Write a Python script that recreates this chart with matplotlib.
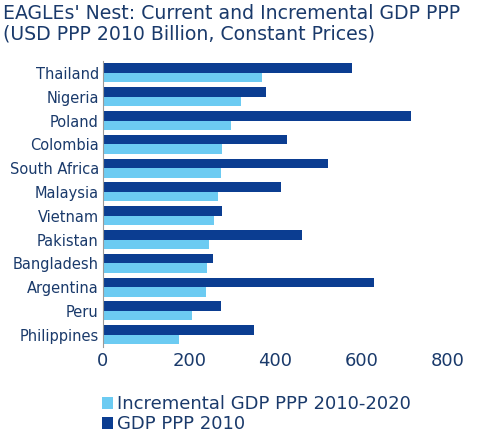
import numpy as np
import matplotlib.pyplot as plt

countries = ["Thailand", "Nigeria", "Poland", "Colombia", "South Africa", "Malaysia",
             "Vietnam", "Pakistan", "Bangladesh", "Argentina", "Peru", "Philippines"]
incremental = [369, 320, 297, 276, 274, 267, 258, 246, 241, 239, 206, 176]
gdp_2010 = [578, 378, 715, 427, 522, 413, 276, 462, 255, 629, 274, 350]

light = "#6ccbf2"
dark = "#0b3d91"
txt = "#1a3a6b"

fig = plt.figure(figsize=(5, 4.36), dpi=100)
ax = fig.add_axes([0.206, 0.205, 0.69, 0.655])

y = np.arange(len(countries))
h = 0.4
ax.barh(y + h / 2, incremental, height=h, color=light, label="Incremental GDP PPP 2010-2020")
ax.barh(y - h / 2, gdp_2010, height=h, color=dark, label="GDP PPP 2010")

ax.set_yticks(y)
ax.set_yticklabels(countries, fontsize=10.5, color=txt)
ax.set_ylim(len(countries) - 0.5, -0.5)
ax.set_xlim(0, 800)
ax.set_xticks([0, 200, 400, 600, 800])
ax.tick_params(axis="x", labelsize=13, colors=txt, length=0, pad=4)
ax.tick_params(axis="y", length=0, pad=3)
for s in ["top", "right", "bottom"]:
    ax.spines[s].set_visible(False)
ax.spines["left"].set_color("#999999")

fig.text(0.006, 0.99, "EAGLEs' Nest: Current and Incremental GDP PPP\n(USD PPP 2010 Billion, Constant Prices)",
         fontsize=13.6, color=txt, va="top", ha="left", linespacing=1.1)

fig.legend(loc="lower left", bbox_to_anchor=(0.19, -0.01), frameon=False, fontsize=13,
           handlelength=0.6, handleheight=0.6, handletextpad=0.2, labelspacing=0.1,
           labelcolor=txt, borderaxespad=0)

fig.savefig("out.png", dpi=100)
